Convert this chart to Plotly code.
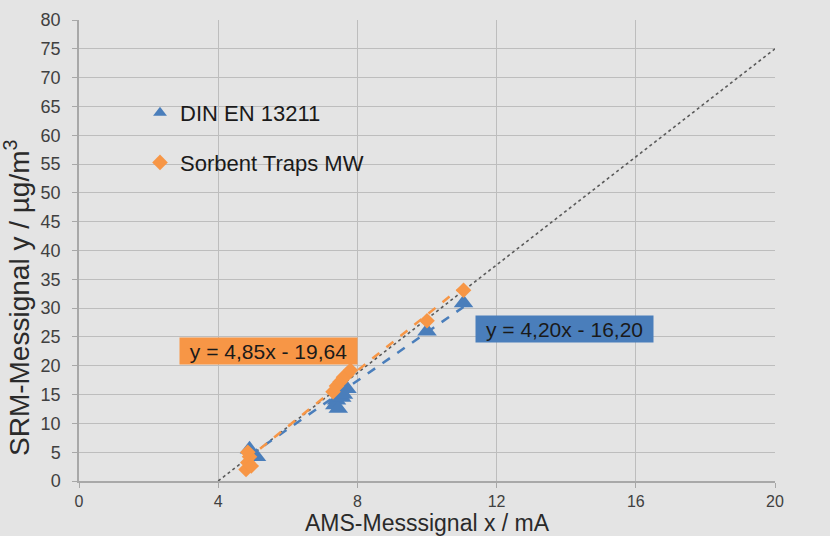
import plotly.graph_objects as go

# ---- data ----
din_x = [4.9, 5.1, 7.35, 7.4, 7.45, 7.55, 7.6, 7.7, 10.0, 11.05]
din_y = [5.5, 4.2, 13.2, 14.0, 12.6, 14.5, 15.0, 16.0, 26.0, 30.9]
st_x = [4.8, 4.85, 4.9, 4.95, 4.85, 7.3, 7.4, 7.5, 7.6, 7.7, 7.8, 10.0, 11.05]
st_y = [2.0, 3.2, 4.2, 2.6, 5.0, 15.5, 16.5, 17.2, 18.0, 18.5, 19.2, 27.8, 33.1]
series_names = ["DIN EN 13211", "Sorbent Traps MW"]
trend_slope = [4.20, 4.85]
trend_intercept = [-16.20, -19.64]
trend_xrange = [[4.9, 11.05], [4.8, 11.05]]
ref_x = [4, 20]
ref_y = [0, 75]
x_ticks = [0, 4, 8, 12, 16, 20]
y_ticks = list(range(0, 85, 5))

BLUE = "#4a7ebb"
ORANGE = "#f79646"
BG = "#e4e4e4"
GRID = "#bdbdbd"
AXIS = "#a8a8a8"
FONT = "Liberation Sans, Arial, sans-serif"

def fmt(v):
    return f"{abs(v):.2f}".replace(".", ",")

fig = go.Figure()

# reference line
fig.add_trace(go.Scatter(x=ref_x, y=ref_y, mode="lines", showlegend=False,
                         line=dict(color="#5a5a5a", width=1.6, dash="dot"),
                         hoverinfo="skip"))

colors = [BLUE, ORANGE]
# trend lines
for i in range(2):
    xs = trend_xrange[i]
    ys = [trend_slope[i] * v + trend_intercept[i] for v in xs]
    fig.add_trace(go.Scatter(x=xs, y=ys, mode="lines", showlegend=False,
                             line=dict(color=colors[i], width=2.5, dash="dash"),
                             hoverinfo="skip"))

fig.add_trace(go.Scatter(x=din_x, y=din_y, mode="markers", name=series_names[0],
                         legendgroup="a",
                         marker=dict(symbol="triangle-up", size=17, color=BLUE)))
fig.add_trace(go.Scatter(x=st_x, y=st_y, mode="markers", name=series_names[1],
                         legendgroup="b",
                         marker=dict(symbol="diamond", size=12, color=ORANGE)))

# trend labels
label_pos = [(13.95, 26.46), (5.45, 22.56)]
for i in range(2):
    txt = f"y = {fmt(trend_slope[i])}x - {fmt(trend_intercept[i])}"
    fig.add_annotation(x=label_pos[i][0], y=label_pos[i][1], text=txt,
                       showarrow=False, bgcolor=colors[i], width=177, height=26,
                       font=dict(family=FONT, size=21, color="#1a1a1a"),
                       borderpad=0)

# axis titles as annotations to match reference positions
fig.add_annotation(xref="paper", yref="paper", x=(17 - 79) / 696, y=(481 - 298) / 461,
                   text="SRM-Messignal y / µg/m<sup>3</sup>", textangle=-90,
                   showarrow=False, xanchor="center", yanchor="middle",
                   font=dict(family=FONT, size=28, color="#2a2a2a"))
fig.add_annotation(xref="paper", yref="paper", x=(427 - 79) / 696, y=(481 - 523) / 461,
                   text="AMS-Messsignal x / mA",
                   showarrow=False, xanchor="center", yanchor="middle",
                   font=dict(family=FONT, size=23, color="#2a2a2a"))

# legend background covering the gridlines
fig.add_shape(type="rect", xref="paper", yref="paper", layer="between",
              x0=(123 - 79) / 696, x1=(402 - 79) / 696,
              y0=(481 - 183) / 461, y1=(481 - 88) / 461,
              fillcolor=BG, line=dict(width=0))

fig.update_layout(
    width=830, height=536, autosize=False,
    margin=dict(l=79, r=55, t=20, b=55, autoexpand=False),
    paper_bgcolor=BG, plot_bgcolor=BG,
    font=dict(family=FONT, color="#404040"),
    legend=dict(x=(140 - 79) / 696, y=(481 - 92) / 461, xanchor="left", yanchor="top",
                bgcolor="rgba(0,0,0,0)", font=dict(size=22, color="#1a1a1a"),
                tracegroupgap=18, itemsizing="constant"),
    showlegend=True,
)
fig.update_xaxes(range=[0, 20], tickvals=x_ticks, ticktext=[str(v) for v in x_ticks],
                 showgrid=True, gridcolor=GRID, gridwidth=1, automargin=False,
                 showline=True, linecolor=AXIS, linewidth=1.5,
                 ticks="outside", ticklen=5, tickcolor=AXIS, ticklabelstandoff=0,
                 tickfont=dict(size=16, color="#404040"), zeroline=False)
fig.update_yaxes(range=[0, 80], tickvals=y_ticks, ticktext=[str(v) for v in y_ticks],
                 showgrid=True, gridcolor=GRID, gridwidth=1, automargin=False,
                 showline=True, linecolor=AXIS, linewidth=1.5,
                 ticks="outside", ticklen=5, tickcolor=AXIS, ticklabelstandoff=8,
                 tickfont=dict(size=18, color="#404040"), zeroline=False)

fig.write_html("out.html", config={"displayModeBar": False},
               post_script="document.body.style.margin='0';document.body.style.background='#f2f2f2';")
